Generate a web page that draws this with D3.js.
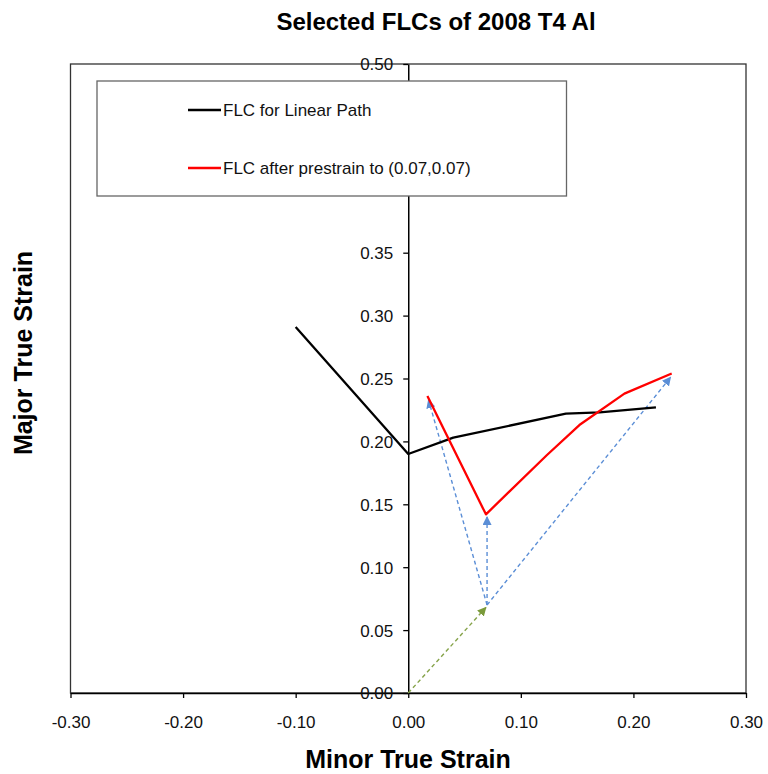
<!DOCTYPE html>
<html><head><meta charset="utf-8">
<script src="https://cdn.jsdelivr.net/npm/d3@7"></script>
<style>body{margin:0;background:#fff}text{font-family:"Liberation Sans",Arial,sans-serif}</style>
</head><body>
<svg id="c" width="768" height="774"></svg>
<script>
const linearX = [-0.10, 0.00, 0.04, 0.14, 0.17, 0.22];
const linearY = [0.291, 0.190, 0.203, 0.222, 0.223, 0.227];
const prestrainX = [0.017, 0.069, 0.123, 0.152, 0.192, 0.234];
const prestrainY = [0.236, 0.142, 0.189, 0.213, 0.238, 0.254];
const prePathFrom = [0.00, 0.00];
const prePathTo = [0.069, 0.068];
const secondFrom = [0.07, 0.07];
const secondToX = [0.018, 0.07, 0.233];
const secondToY = [0.233, 0.140, 0.251];
const xTicks = [-0.30, -0.20, -0.10, 0.00, 0.10, 0.20, 0.30];
const yTicks = [0.00, 0.05, 0.10, 0.15, 0.20, 0.25, 0.30, 0.35, 0.40, 0.45, 0.50];
const legendLabels = ["FLC for Linear Path", "FLC after prestrain to (0.07,0.07)"];
const title = "Selected FLCs of 2008 T4 Al";

const FONT = '"Liberation Sans",Arial,sans-serif';
const fmt = d => d3.format(".2f")(d).replace("\u2212", "-");
const svg = d3.select("#c");
const L = 70.5, R = 746, T = 64, B = 693;
const x = d3.scaleLinear().domain([-0.3, 0.3]).range([L, R]);
const y = d3.scaleLinear().domain([0, 0.5]).range([B, T]);

// frame
svg.append("rect").attr("x", L).attr("y", T).attr("width", R - L).attr("height", B - T)
  .attr("fill", "none").attr("stroke", "#333").attr("stroke-width", 1.3);

// x axis
const xa = svg.append("g").attr("transform", `translate(0,${B})`)
  .call(d3.axisBottom(x).tickValues(xTicks).tickFormat(fmt).tickSizeInner(5).tickSizeOuter(0).tickPadding(18));
xa.select(".domain").attr("stroke", "#000").attr("stroke-width", 1.5);
xa.selectAll(".tick line").attr("stroke", "#000").attr("stroke-width", 1.3);
xa.selectAll("text").attr("font-size", 17).attr("fill", "#111").attr("font-family", FONT);

// y axis at x=0
const ya = svg.append("g").attr("transform", `translate(${x(0)},0)`)
  .call(d3.axisLeft(y).tickValues(yTicks).tickFormat(fmt).tickSizeInner(5).tickSizeOuter(0).tickPadding(10));
ya.select(".domain").attr("stroke", "#000").attr("stroke-width", 1.5);
ya.selectAll(".tick line").attr("stroke", "#000").attr("stroke-width", 1.3);
ya.selectAll("text").attr("font-size", 17).attr("fill", "#111").attr("dy", "0.35em").attr("font-family", FONT);

// arrow markers
const defs = svg.append("defs");
function marker(id, color) {
  defs.append("marker").attr("id", id).attr("viewBox", "0 0 10 10").attr("refX", 9).attr("refY", 5)
    .attr("markerWidth", 9).attr("markerHeight", 9).attr("markerUnits", "userSpaceOnUse").attr("orient", "auto")
    .append("path").attr("d", "M0,0L10,5L0,10Z").attr("fill", color);
}
marker("ag", "#7a9a3a");
marker("ab", "#5b8ed6");

// green prestrain arrow
svg.append("line").attr("x1", x(prePathFrom[0])).attr("y1", y(prePathFrom[1]))
  .attr("x2", x(prePathTo[0])).attr("y2", y(prePathTo[1]))
  .attr("stroke", "#86a34a").attr("stroke-width", 1.4).attr("stroke-dasharray", "4,3")
  .attr("marker-end", "url(#ag)");

// blue arrows
secondToX.forEach((tx, i) => {
  svg.append("line").attr("x1", x(secondFrom[0])).attr("y1", y(secondFrom[1]))
    .attr("x2", x(tx)).attr("y2", y(secondToY[i]))
    .attr("stroke", "#5b8ed6").attr("stroke-width", 1.4).attr("stroke-dasharray", "4,3")
    .attr("marker-end", "url(#ab)");
});

const line = d3.line().x(d => x(d[0])).y(d => y(d[1]));
svg.append("path").datum(linearX.map((v, i) => [v, linearY[i]])).attr("d", line)
  .attr("fill", "none").attr("stroke", "#000").attr("stroke-width", 2.3).attr("stroke-linejoin", "round");
svg.append("path").datum(prestrainX.map((v, i) => [v, prestrainY[i]])).attr("d", line)
  .attr("fill", "none").attr("stroke", "#ff0000").attr("stroke-width", 2.3).attr("stroke-linejoin", "round");

// legend
const lg = svg.append("g");
lg.append("rect").attr("x", 97).attr("y", 81).attr("width", 469.5).attr("height", 115)
  .attr("fill", "#fff").attr("stroke", "#666").attr("stroke-width", 1.3);
const lcolors = ["#000", "#ff0000"];
legendLabels.forEach((t, i) => {
  const yy = 110 + i * 58;
  lg.append("line").attr("x1", 188).attr("x2", 221).attr("y1", yy).attr("y2", yy)
    .attr("stroke", lcolors[i]).attr("stroke-width", 2.3);
  lg.append("text").attr("x", 223).attr("y", yy).attr("dy", "0.35em").attr("font-size", 17).attr("fill", "#111").text(t);
});

// titles
svg.append("text").attr("x", 436).attr("y", 30).attr("text-anchor", "middle")
  .attr("font-size", 24).attr("font-weight", "bold").attr("fill", "#000").text(title);
svg.append("text").attr("x", 408).attr("y", 768).attr("text-anchor", "middle")
  .attr("font-size", 25).attr("font-weight", "bold").attr("fill", "#000").text("Minor True Strain");
svg.append("text").attr("transform", "translate(32,353) rotate(-90)").attr("text-anchor", "middle")
  .attr("font-size", 25).attr("font-weight", "bold").attr("fill", "#000").text("Major True Strain");
</script>
</body></html>
